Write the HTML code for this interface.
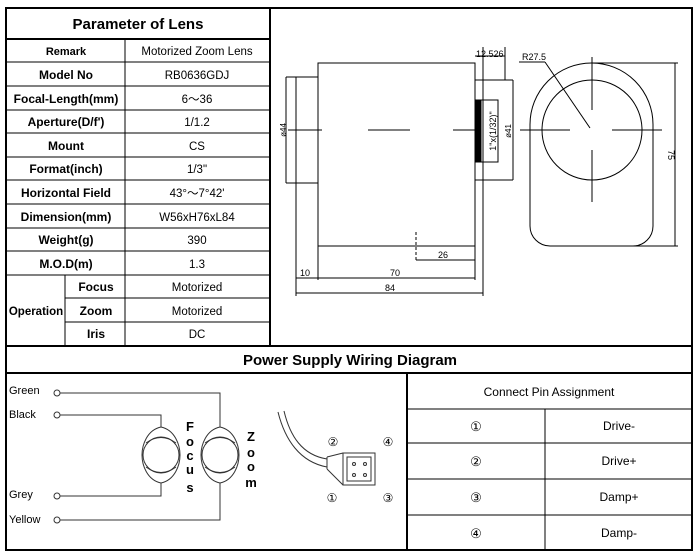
<!DOCTYPE html>
<html><head><meta charset="utf-8"><style>
body{margin:0;background:#fff;}
svg{display:block;}
text{font-family:"Liberation Sans",Arial,sans-serif;fill:#000;}
</style></head><body>
<svg width="700" height="558" viewBox="0 0 700 558" xmlns="http://www.w3.org/2000/svg">
<rect x="0" y="0" width="700" height="558" fill="#fff"/>
<rect x="6" y="8" width="686" height="542" fill="none" stroke="#000" stroke-width="2"/>
<line x1="270" y1="8" x2="270" y2="346" stroke="#000" stroke-width="2"/>
<line x1="6" y1="346" x2="692" y2="346" stroke="#000" stroke-width="2"/>
<line x1="6" y1="373" x2="692" y2="373" stroke="#000" stroke-width="2"/>
<line x1="407" y1="373" x2="407" y2="550" stroke="#000" stroke-width="2"/>

<g stroke="#000" stroke-width="1">
<line x1="6" y1="39" x2="270" y2="39" stroke-width="2"/>
<line x1="6" y1="62" x2="270" y2="62"/>
<line x1="6" y1="86" x2="270" y2="86"/>
<line x1="6" y1="110" x2="270" y2="110"/>
<line x1="6" y1="133" x2="270" y2="133"/>
<line x1="6" y1="157" x2="270" y2="157"/>
<line x1="6" y1="180" x2="270" y2="180"/>
<line x1="6" y1="204" x2="270" y2="204"/>
<line x1="6" y1="228" x2="270" y2="228"/>
<line x1="6" y1="251" x2="270" y2="251"/>
<line x1="6" y1="275" x2="270" y2="275"/>
<line x1="65" y1="298" x2="270" y2="298"/>
<line x1="65" y1="322" x2="270" y2="322"/>
<line x1="125" y1="39" x2="125" y2="346"/>
<line x1="65" y1="275" x2="65" y2="346"/>
</g>
<text x="138" y="29" font-size="15" font-weight="bold" text-anchor="middle">Parameter of Lens</text>
<g font-size="12" font-weight="bold" text-anchor="middle">
<text x="66" y="55" font-family="Liberation Serif" font-size="11">Remark</text>
<text x="66" y="79">Model No</text>
<text x="66" y="103">Focal-Length(mm)</text>
<text x="66" y="126">Aperture(D/f')</text>
<text x="66" y="150">Mount</text>
<text x="66" y="173">Format(inch)</text>
<text x="66" y="197">Horizontal Field</text>
<text x="66" y="221">Dimension(mm)</text>
<text x="66" y="244">Weight(g)</text>
<text x="66" y="268">M.O.D(m)</text>
<text x="36" y="315" font-size="11.5">Operation</text>
<text x="96" y="291">Focus</text>
<text x="96" y="315">Zoom</text>
<text x="96" y="338">Iris</text>
</g>
<g font-size="11.5" text-anchor="middle" fill="#222">
<text x="197" y="55">Motorized Zoom Lens</text>
<text x="197" y="79">RB0636GDJ</text>
<text x="197" y="103">6～36</text>
<text x="197" y="126">1/1.2</text>
<text x="197" y="150">CS</text>
<text x="197" y="173">1/3"</text>
<text x="197" y="197">43°～7°42'</text>
<text x="197" y="221">W56xH76xL84</text>
<text x="197" y="244">390</text>
<text x="197" y="268">1.3</text>
<text x="197" y="291">Motorized</text>
<text x="197" y="315">Motorized</text>
<text x="197" y="338">DC</text>
</g>

<g stroke="#000" stroke-width="1" fill="none">
<rect x="318" y="63" width="157" height="183"/>
<rect x="296" y="77" width="22" height="106"/>
<line x1="475" y1="80" x2="513" y2="80"/>
<line x1="475" y1="180" x2="513" y2="180"/>
<line x1="505" y1="47" x2="505" y2="80"/>
<line x1="483" y1="47" x2="483" y2="296"/>
<line x1="475" y1="56" x2="505" y2="56"/>
<rect x="476" y="100" width="22" height="62"/>
<rect x="476" y="100" width="5" height="62" fill="#000"/>
<line x1="513" y1="80" x2="513" y2="180"/>
<line x1="286" y1="77" x2="286" y2="183"/>
<line x1="286" y1="77" x2="296" y2="77"/>
<line x1="286" y1="183" x2="296" y2="183"/>
<line x1="288" y1="130" x2="322" y2="130"/>
<line x1="368" y1="130" x2="410" y2="130"/>
<line x1="453" y1="130" x2="475" y2="130"/>
<line x1="520" y1="130" x2="570" y2="130"/>
<line x1="612" y1="130" x2="662" y2="130"/>
<line x1="592" y1="57" x2="592" y2="110"/>
<line x1="592" y1="150" x2="592" y2="202"/>
<circle cx="592" cy="130" r="50"/>
<path d="M530,124.5 A61.5,61.5 0 0 1 653,124.5 L653,226 A20,20 0 0 1 633,246 L550,246 A20,20 0 0 1 530,226 Z"/>
<line x1="592" y1="63" x2="678" y2="63"/>
<line x1="630" y1="246" x2="678" y2="246"/>
<line x1="675" y1="63" x2="675" y2="246"/>
<line x1="519" y1="62" x2="545" y2="62"/>
<line x1="545" y1="62" x2="590" y2="128"/>
<line x1="416" y1="232" x2="416" y2="260" stroke-dasharray="3,2"/>
<line x1="416" y1="260" x2="475" y2="260"/>
<line x1="296" y1="183" x2="296" y2="296"/>
<line x1="318" y1="246" x2="318" y2="280"/>
<line x1="475" y1="246" x2="475" y2="280"/>
<line x1="296" y1="278" x2="475" y2="278"/>
<line x1="296" y1="293" x2="483" y2="293"/>
</g>
<g font-size="9" fill="#000">
<text x="476" y="57">12.526</text>
<text x="522" y="60">R27.5</text>
<text x="438" y="258">26</text>
<text x="300" y="276">10</text>
<text x="390" y="276">70</text>
<text x="385" y="291">84</text>
<text transform="translate(286,130) rotate(-90)" text-anchor="middle" font-size="8">ø44</text>
<text transform="translate(511,131) rotate(-90)" text-anchor="middle" font-size="8">ø41</text>
<text transform="translate(496,131) rotate(-90)" text-anchor="middle" font-size="9">1"x(1/32)"</text>
<text transform="translate(668,155) rotate(90)" text-anchor="middle" font-size="9">75</text>
</g>

<text x="350" y="365" font-size="15" font-weight="bold" text-anchor="middle">Power Supply Wiring Diagram</text>
<g font-size="11" fill="#333">
<text x="9" y="394">Green</text>
<text x="9" y="418">Black</text>
<text x="9" y="498">Grey</text>
<text x="9" y="523">Yellow</text>
</g>
<g stroke="#333" stroke-width="1" fill="#fff">
<circle cx="57" cy="393" r="3"/>
<circle cx="57" cy="415" r="3"/>
<circle cx="57" cy="496" r="3"/>
<circle cx="57" cy="520" r="3"/>
</g>
<g stroke="#333" stroke-width="1" fill="none">
<polyline points="60,393 220,393 220,427"/>
<polyline points="60,415 161,415 161,427"/>
<polyline points="60,496 161,496 161,483"/>
<polyline points="60,520 220,520 220,483"/>
<path d="M161,427 C175,430 180,445 180,455 C180,465 175,480 161,483 C147,480 142,465 142,455 C142,445 147,430 161,427Z"/>
<circle cx="161" cy="455" r="18"/>
<path d="M146,443 Q161,432 176,443"/>
<path d="M146,467 Q161,478 176,467"/>
<path d="M220,427 C234,430 239,445 239,455 C239,465 234,480 220,483 C206,480 201,465 201,455 C201,445 206,430 220,427Z"/>
<circle cx="220" cy="455" r="18"/>
<path d="M205,443 Q220,432 235,443"/>
<path d="M205,467 Q220,478 235,467"/>
<path d="M278,412 C285,440 300,462 327,467"/>
<path d="M284,411 C290,436 302,455 327,459"/>
<path d="M327,457 L343,453 M327,469 L343,485 M327,457 L327,469"/>
<rect x="343" y="453" width="32" height="32"/>
<rect x="347" y="457" width="24" height="24"/>
<circle cx="354" cy="464" r="1.5"/><circle cx="365" cy="464" r="1.5"/>
<circle cx="354" cy="475" r="1.5"/><circle cx="365" cy="475" r="1.5"/>
</g>
<g font-size="13" font-weight="bold" text-anchor="middle">
<text x="190" y="431">F</text><text x="190" y="446">o</text><text x="190" y="460">c</text><text x="190" y="474">u</text><text x="190" y="492">s</text>
<text x="251" y="441">Z</text><text x="251" y="457">o</text><text x="251" y="471">o</text><text x="251" y="487">m</text>
</g>
<g font-size="12" fill="#444" text-anchor="middle">
<text x="333" y="446" font-family="Noto Sans CJK SC, sans-serif">②</text>
<text x="388" y="446" font-family="Noto Sans CJK SC, sans-serif">④</text>
<text x="332" y="502" font-family="Noto Sans CJK SC, sans-serif">①</text>
<text x="388" y="502" font-family="Noto Sans CJK SC, sans-serif">③</text>
</g>

<g stroke="#000" stroke-width="1">
<line x1="407" y1="409" x2="692" y2="409"/>
<line x1="407" y1="443" x2="692" y2="443"/>
<line x1="407" y1="479" x2="692" y2="479"/>
<line x1="407" y1="515" x2="692" y2="515"/>
<line x1="545" y1="409" x2="545" y2="550"/>
</g>
<g font-size="12" text-anchor="middle" fill="#222">
<text x="549" y="396">Connect Pin Assignment</text>
<text x="619" y="430">Drive-</text>
<text x="619" y="465">Drive+</text>
<text x="619" y="501">Damp+</text>
<text x="619" y="537">Damp-</text>
</g>
<g font-size="13" text-anchor="middle" fill="#222" font-family="Noto Sans CJK SC, sans-serif">
<text x="476" y="431">①</text>
<text x="476" y="466">②</text>
<text x="476" y="502">③</text>
<text x="476" y="538">④</text>
</g>
</svg>
</body></html>
